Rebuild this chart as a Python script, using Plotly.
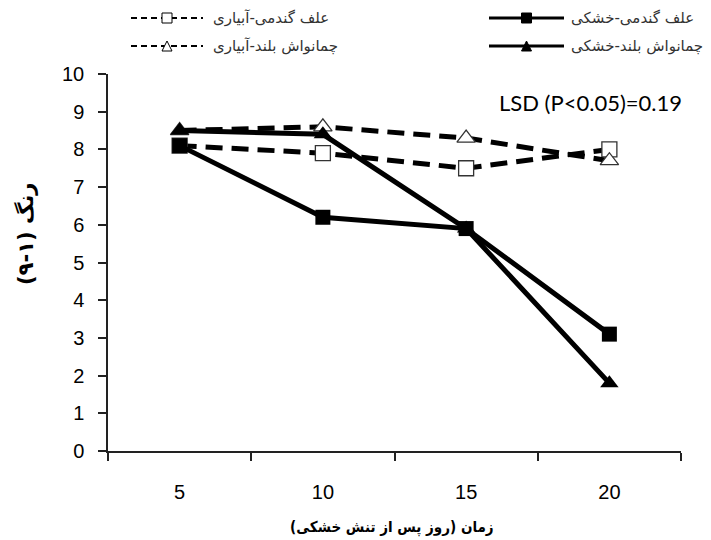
import plotly.graph_objects as go

categories = ["5", "10", "15", "20"]
wheat_irrigated = [8.1, 7.9, 7.5, 8.0]
fescue_irrigated = [8.5, 8.6, 8.3, 7.7]
wheat_drought = [8.1, 6.2, 5.9, 3.1]
fescue_drought = [8.5, 8.4, 5.9, 1.8]
y_ticks = list(range(0, 11))
names = ["علف گندمی-آبیاری", "چمانواش بلند-آبیاری", "علف گندمی-خشکی", "چمانواش بلند-خشکی"]

W, H = 711, 540
L, R, T, B = 108, 30, 74, 89
PW, PH = W - L - R, H - T - B

def px(x):
    return (x - L) / PW

def py(y):
    return (H - B - y) / PH

fig = go.Figure()
DASH = "17px,9px"

fig.add_trace(go.Scatter(x=categories, y=wheat_irrigated, mode="lines+markers", name=names[0],
                         line=dict(color="black", width=5, dash=DASH),
                         marker=dict(symbol="square", size=15, color="white",
                                     line=dict(color="#333", width=1.3))))
fig.add_trace(go.Scatter(x=categories, y=fescue_irrigated, mode="lines+markers", name=names[1],
                         line=dict(color="black", width=5, dash=DASH),
                         marker=dict(symbol="triangle-up", size=16, color="white",
                                     line=dict(color="#333", width=1.3))))
fig.add_trace(go.Scatter(x=categories, y=wheat_drought, mode="lines+markers", name=names[2],
                         line=dict(color="black", width=5),
                         marker=dict(symbol="square", size=15, color="black")))
fig.add_trace(go.Scatter(x=categories, y=fescue_drought, mode="lines+markers", name=names[3],
                         line=dict(color="black", width=5),
                         marker=dict(symbol="triangle-up", size=16, color="black")))

shapes = []
annotations = []

def legend_entry(x0, x1, y, dashed, symbol, filled, text, tx):
    shapes.append(dict(type="line", xref="paper", yref="paper",
                       x0=px(x0), x1=px(x1), y0=py(y), y1=py(y),
                       line=dict(color="black", width=2.2 if dashed else 3,
                                 dash="6px,4px" if dashed else "solid")))
    cx = (x0 + x1) / 2
    fill = "black" if filled else "white"
    s = 5
    if symbol == "square":
        shapes.append(dict(type="rect", xref="paper", yref="paper",
                           x0=px(cx - s), x1=px(cx + s), y0=py(y - s), y1=py(y + s),
                           fillcolor=fill, line=dict(color="black", width=1)))
    else:
        path = "M {} {} L {} {} L {} {} Z".format(px(cx - s), py(y + s), px(cx + s), py(y + s), px(cx), py(y - s))
        shapes.append(dict(type="path", xref="paper", yref="paper", path=path,
                           fillcolor=fill, line=dict(color="black", width=1)))
    annotations.append(dict(xref="paper", yref="paper", x=px(tx), y=py(y), xanchor="left",
                            yanchor="middle", showarrow=False, text=text,
                            font=dict(family="DejaVu Sans", size=15, color="#333")))

legend_entry(131, 203, 18, True, "square", False, names[0], 211)
legend_entry(131, 203, 46, True, "triangle", False, names[1], 211)
legend_entry(489, 564, 18, False, "square", True, names[2], 569)
legend_entry(489, 564, 46, False, "triangle", True, names[3], 569)

annotations.append(dict(xref="paper", yref="paper", x=px(590), y=py(102), xanchor="center",
                        yanchor="middle", showarrow=False, text="LSD (P<0.05)=0.19",
                        font=dict(family="Lato", size=22, color="black")))
annotations.append(dict(xref="paper", yref="paper", x=px(392), y=py(527), xanchor="center",
                        yanchor="middle", showarrow=False, text="<b>زمان (روز پس از تنش خشکی)</b>",
                        font=dict(family="DejaVu Sans Condensed, DejaVu Sans", size=15, color="black")))
annotations.append(dict(xref="paper", yref="paper", x=px(25), y=py(234), xanchor="center",
                        yanchor="middle", showarrow=False, textangle=-90,
                        text="<b>رنگ (۱-۹)</b>",
                        font=dict(family="DejaVu Sans", size=21, color="black")))

fig.update_layout(
    width=W, height=H,
    margin=dict(l=L, r=R, t=T, b=B),
    paper_bgcolor="white", plot_bgcolor="white",
    showlegend=False,
    shapes=shapes, annotations=annotations,
    xaxis=dict(type="category", range=[-0.5, 3.5], tickson="boundaries",
               showline=True, linecolor="#222", linewidth=1.5, showgrid=False, zeroline=False,
               ticks="outside", ticklen=8, tickcolor="#222", tickwidth=1.5,
               ticklabelstandoff=22,
               tickfont=dict(family="Liberation Sans", size=20, color="black")),
    yaxis=dict(range=[0, 10], tickvals=y_ticks, showline=True, linecolor="#222", linewidth=1.5,
               showgrid=False, zeroline=False, ticks="outside", ticklen=8, tickcolor="#222",
               tickwidth=1.5, ticklabelstandoff=10,
               tickfont=dict(family="Liberation Sans", size=20, color="black")),
)

fig.write_html("out.html")
